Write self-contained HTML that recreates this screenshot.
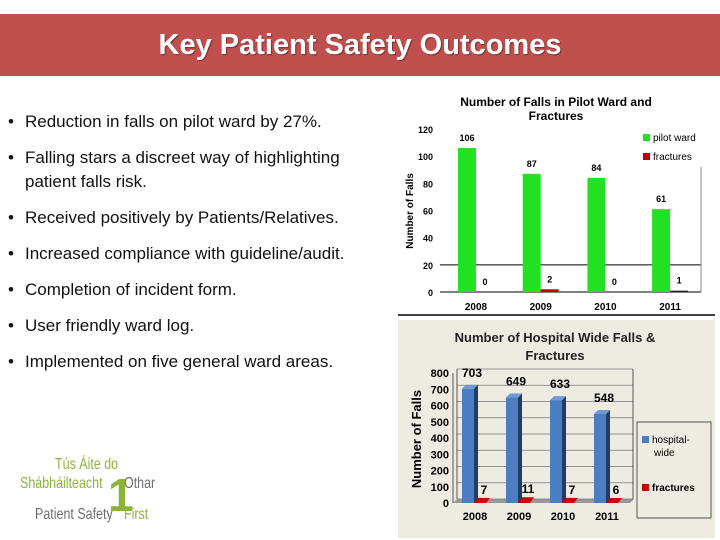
<!DOCTYPE html>
<html><head><meta charset="utf-8"><style>
body{margin:0;width:720px;height:540px;background:#fff;position:relative;overflow:hidden;font-family:"Liberation Sans",sans-serif}
#title-bar{position:absolute;left:0;top:14px;width:720px;height:62px;background:#c0504d}
#title{position:absolute;left:0;top:14px;width:720px;height:62px;line-height:62px;text-align:center;color:#fff;font-weight:bold;font-size:29px;text-shadow:1px 1px 1px #7a3030}
.b{position:absolute;left:8px;font-size:17px;color:#111;line-height:24px;white-space:nowrap}
.b span{display:inline-block;width:17px}
.logo{position:absolute;font-size:16px;white-space:nowrap;transform:scaleX(0.78);transform-origin:left top}
</style></head><body>
<div id="title-bar"></div>
<div id="title">Key Patient Safety Outcomes</div>
<div class="b" style="top:110px"><span>•</span>Reduction in falls on pilot ward by 27%.</div>
<div class="b" style="top:146px"><span>•</span>Falling stars a discreet way of highlighting<br><span></span>patient falls risk.</div>
<div class="b" style="top:206px"><span>•</span>Received positively by Patients/Relatives.</div>
<div class="b" style="top:242px"><span>•</span>Increased compliance with guideline/audit.</div>
<div class="b" style="top:278px"><span>•</span>Completion of incident form.</div>
<div class="b" style="top:314px"><span>•</span>User friendly ward log.</div>
<div class="b" style="top:350px"><span>•</span>Implemented on five general ward areas.</div>
<div class="logo" style="left:55px;top:456px;color:#8db33a">Tús Áite do</div>
<div class="logo" style="left:20px;top:475px;color:#8db33a">Shábháilteacht</div>
<div class="logo" style="left:124px;top:475px;color:#6d6e71">Othar</div>
<div class="logo" style="left:35px;top:506px;color:#6d6e71">Patient Safety</div>
<div class="logo" style="left:124px;top:506px;color:#8db33a">First</div>
<div class="logo" style="left:108px;top:468px;color:#8db33a;font-size:46px;font-weight:bold;transform:none">1</div>

<svg id="c" width="720" height="540" style="position:absolute;left:0;top:0"></svg>
<script>
const years=["2008","2009","2010","2011"];
const pilotWard=[106,87,84,61];
const pilotFractures=[0,2,0,1];
const pilotTicks=[0,20,40,60,80,100,120];
const hospWide=[703,649,633,548];
const hospFractures=[7,11,7,6];
const hospTicks=[0,100,200,300,400,500,600,700,800];
const NS='http://www.w3.org/2000/svg';
const svg=document.getElementById('c');
function el(t,a,txt){const e=document.createElementNS(NS,t);for(const k in a)e.setAttribute(k,a[k]);if(txt!==undefined)e.textContent=txt;svg.appendChild(e);return e;}
// Chart 1
const y1=v=>292-v*(163/120);
const x1=i=>458+i*64.7;
let e;
e=el('text',{x:556,y:106,'text-anchor':'middle','font-size':12,'font-weight':'bold'},'Number of Falls in Pilot Ward and');

e=el('text',{x:556,y:120,'text-anchor':'middle','font-size':12,'font-weight':'bold'},'Fractures');

e=el('text',{x:0,y:0,transform:'translate(413,211) rotate(-90)','text-anchor':'middle','font-size':10,'font-weight':'bold'},'Number of Falls');

pilotTicks.forEach(t=>{e=el('text',{x:433,y:y1(t)+4,'text-anchor':'end','font-size':9,'font-weight':'bold'},t);
});
el('line',{x1:440,x2:701,y1:y1(20),y2:y1(20),stroke:'#000'});
el('line',{x1:440,x2:701,y1:y1(0),y2:y1(0),stroke:'#000'});
el('line',{x1:701,x2:701,y1:167,y2:y1(0),stroke:'#888'});
el('line',{x1:398,x2:715,y1:315,y2:315,stroke:'#000','stroke-width':1.5});
years.forEach((y,i)=>{
 e=el('rect',{x:x1(i),y:y1(pilotWard[i]),width:18,height:y1(0)-y1(pilotWard[i]),fill:'#22e022'});
 
 e=el('rect',{x:x1(i)+18,y:y1(pilotFractures[i]),width:18,height:y1(0)-y1(pilotFractures[i]),fill:i==3?'#222':'#c00000'});
 
 e=el('text',{x:x1(i)+9,y:y1(pilotWard[i])-7,'text-anchor':'middle','font-size':9,'font-weight':'bold'},pilotWard[i]);
 
 e=el('text',{x:x1(i)+27,y:y1(pilotFractures[i])-7,'text-anchor':'middle','font-size':9,'font-weight':'bold'},pilotFractures[i]);
 
 e=el('text',{x:x1(i)+18,y:310,'text-anchor':'middle','font-size':10,'font-weight':'bold'},y);
 
});
el('rect',{x:643,y:134,width:7,height:7,fill:'#22e022'});
e=el('text',{x:653,y:141,'font-size':10},'pilot ward');
el('rect',{x:643,y:153,width:7,height:7,fill:'#c00000'});
e=el('text',{x:653,y:160,'font-size':10},'fractures');
// Chart 2
e=el('rect',{x:398,y:320,width:317,height:218,fill:'#eeece2'});
e=el('text',{x:555,y:342,'text-anchor':'middle','font-size':13,'font-weight':'bold',fill:'#222'},'Number of Hospital Wide Falls &');

e=el('text',{x:555,y:360,'text-anchor':'middle','font-size':13,'font-weight':'bold',fill:'#222'},'Fractures');

e=el('text',{x:0,y:0,transform:'translate(421,439) rotate(-90)','text-anchor':'middle','font-size':13,'font-weight':'bold'},'Number  of Falls');

const y2=v=>503-v*(130/800);
const x2=i=>462+i*44;
el('polygon',{points:'453,503 630,503 634,499 457,499',fill:'#999'});
hospTicks.forEach(t=>{
 el('line',{x1:457,x2:633,y1:y2(t)-4,y2:y2(t)-4,stroke:'#777','stroke-width':0.8});
 e=el('text',{x:449,y:y2(t)+4,'text-anchor':'end','font-size':11,'font-weight':'bold'},t);
 
});
el('line',{x1:453,x2:453,y1:y2(800),y2:503,stroke:'#555'});
el('line',{x1:457,x2:457,y1:y2(800)-4,y2:499,stroke:'#555'});
el('line',{x1:633,x2:633,y1:y2(800)-4,y2:499,stroke:'#555'});
years.forEach((y,i)=>{
 const x=x2(i),top=y2(hospWide[i]);
 el('polygon',{points:`${x+12},${top} ${x+16},${top-4} ${x+16},${499} ${x+12},503`,fill:'#1f3d66'});
 el('polygon',{points:`${x},${top} ${x+4},${top-4} ${x+16},${top-4} ${x+12},${top}`,fill:'#6f9ad4'});
 e=el('rect',{x:x,y:top,width:12,height:503-top,fill:'#4a7ec0'});
 
 const ft=y2(hospFractures[i]);
 e=el('polygon',{points:`${x+12},503 ${x+16},${ft-4} ${x+28},${ft-4} ${x+24},503`,fill:'#d00000'});
 
 e=el('text',{x:x+10,y:top-12,'text-anchor':'middle','font-size':12,'font-weight':'bold'},hospWide[i]);
 
 e=el('text',{x:x+22,y:ft-8,'text-anchor':'middle','font-size':12,'font-weight':'bold'},hospFractures[i]);
 
 e=el('text',{x:x+13,y:520,'text-anchor':'middle','font-size':11,'font-weight':'bold'},y);
 
});
e=el('rect',{x:637,y:422,width:74,height:96,fill:'#eeece2',stroke:'#555'});
el('rect',{x:642,y:436,width:7,height:7,fill:'#4a7ec0'});
e=el('text',{x:652,y:443,'font-size':10},'hospital-');
el('text',{x:654,y:456,'font-size':10},'wide');
el('rect',{x:642,y:484,width:7,height:7,fill:'#d00000'});
e=el('text',{x:652,y:491,'font-size':10,'font-weight':'bold'},'fractures');
</script>
</body></html>
